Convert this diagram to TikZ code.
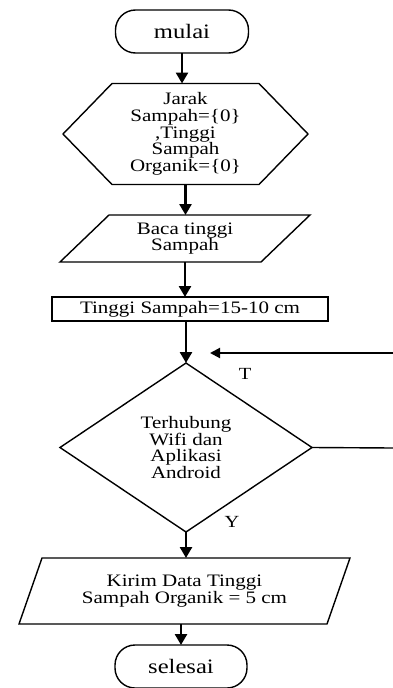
\documentclass[tikz,border=0pt]{standalone}
\usepackage{fontspec}
\setmainfont{Liberation Serif}[FakeStretch=1.2]
\usetikzlibrary{arrows.meta}
\newcommand{\bodyfont}{\fontsize{17.5}{16.8}\selectfont}
\newcommand{\termfont}{\fontsize{20.5}{20.5}\selectfont}
\begin{document}
\begin{tikzpicture}[x=1pt,y=-1pt,
  outline/.style={line width=1.4pt, line join=miter},
  holder/.style={inner sep=0pt, outer sep=0pt, align=center, font=\bodyfont},
  terminal/.style={holder, draw, outline, rounded corners=20pt, font=\termfont,
    minimum width=133pt, minimum height=43pt},
  flow/.style={line width=2.6pt, -{Triangle[length=11pt,width=12pt]}},
  loopline/.style={line width=1.4pt},
  tag/.style={inner sep=0pt, font=\fontsize{17}{17}\selectfont}]
\useasboundingbox (0,0) rectangle (393,688);

% start terminal
\node[terminal] (start) at (182,31.5) {mulai};

% initialisation (hexagon)
\node[holder, minimum width=245pt, minimum height=101pt] (init) at (185.5,134)
  {Jarak\\Sampah=\{0\}\\,Tinggi\\Sampah\\Organik=\{0\}};
\draw[outline] (init.west) -- ([xshift=49pt]init.north west) -- ([xshift=-49pt]init.north east)
  -- (init.east) -- ([xshift=-49pt]init.south east) -- ([xshift=49pt]init.south west) -- cycle;

% read input (parallelogram)
\node[holder, minimum width=250pt, minimum height=47pt] (read) at (185,238.5)
  {Baca tinggi\\Sampah};
\draw[outline] (read.south west) -- ([xshift=49pt]read.north west) -- (read.north east)
  -- ([xshift=-49pt]read.south east) -- cycle;

% process box
\node[holder, draw, outline, minimum width=276pt, minimum height=24pt] (level) at (190,309)
  {Tinggi Sampah=15-10 cm};

% decision (diamond)
\node[holder, minimum width=252pt, minimum height=169pt] (check) at (186,447.5)
  {Terhubung\\Wifi dan\\Aplikasi\\Android};
\draw[outline] (check.north) -- (check.east) -- (check.south) -- (check.west) -- cycle;

% output (parallelogram)
\node[holder, minimum width=331pt, minimum height=66pt] (send) at (184.5,591)
  {Kirim Data Tinggi\\Sampah Organik = 5 cm};
\draw[outline] (send.south west) -- ([xshift=23pt]send.north west) -- (send.north east)
  -- ([xshift=-23pt]send.south east) -- cycle;

% end terminal
\node[terminal, minimum width=132pt] (stop) at (181,666.5) {selesai};

% main flow
\draw[flow] (start.south) -- (start.south |- init.north);
\draw[flow] (init.south) -- (init.south |- read.north);
\draw[flow] (read.south) -- (read.south |- level.north);
\draw[flow] (check.north |- level.south) -- (check.north);
\draw[flow] (check.south) -- (check.south |- send.north);
\draw[flow] (send.south -| stop.north) -- (stop.north);

% loop back
\coordinate (loopin) at (393,353);
\coordinate (looptip) at (210,353);
\coordinate (loopout) at (393,448);
\draw[loopline, line width=2pt, -{Triangle[length=10pt,width=10pt]}] (loopin) -- (looptip);
\draw[loopline] (check.east) -- (loopout);

% branch labels
\node[tag] (lblT) at (245,374) {T};
\node[tag] (lblY) at (232,522) {Y};
\end{tikzpicture}
\end{document}
